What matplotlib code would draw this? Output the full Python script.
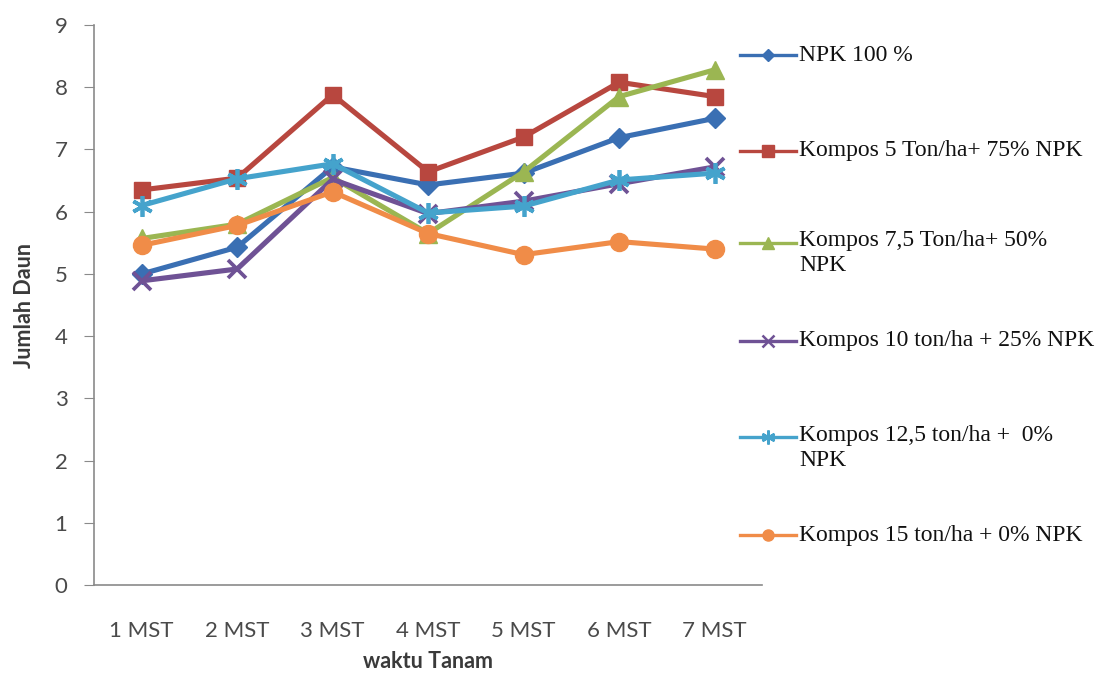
import numpy as np
import matplotlib.pyplot as plt
from matplotlib.lines import Line2D

# minggu setelah tanam
minggu = ['1 MST', '2 MST', '3 MST', '4 MST', '5 MST', '6 MST', '7 MST']

npk_100 = [5.00, 5.43, 6.72, 6.43, 6.62, 7.19, 7.50]
kompos_5 = [6.35, 6.54, 7.88, 6.64, 7.20, 8.08, 7.85]
kompos_7_5 = [5.57, 5.80, 6.55, 5.65, 6.64, 7.85, 8.28]
kompos_10 = [4.89, 5.08, 6.52, 5.97, 6.17, 6.45, 6.72]
kompos_12_5 = [6.10, 6.53, 6.77, 5.98, 6.09, 6.51, 6.62]
kompos_15 = [5.46, 5.78, 6.32, 5.65, 5.31, 5.52, 5.40]

labels = ['NPK 100 %',
          'Kompos 5 Ton/ha+ 75% NPK',
          'Kompos 7,5 Ton/ha+ 50%\nNPK',
          'Kompos 10 ton/ha + 25% NPK',
          'Kompos 12,5 ton/ha +  0%\nNPK',
          'Kompos 15 ton/ha + 0% NPK']
series = [npk_100, kompos_5, kompos_7_5, kompos_10, kompos_12_5, kompos_15]
warna = ['#3a6fb3', '#b8473f', '#9bb652', '#6f5295', '#45a3cc', '#f08c48']
marker = ['D', 's', '^', 'x', (6, 2, 0), 'o']
msize = [10, 12, 13, 13, 15, 13]
lg_size = [6, 8, 8, 8, 10, 8]

fig = plt.figure(figsize=(11.05, 6.75), dpi=100)
ax = fig.add_axes([0.085, 0.133, 0.605, 0.83])

x = np.arange(len(minggu))
for y, c, m, ms in zip(series, warna, marker, msize):
    ax.plot(x, y, color=c, lw=3.7, marker=m, markersize=ms,
            markeredgewidth=2.7 if m in ('x', (6, 2, 0)) else 1,
            markeredgecolor=c, markerfacecolor=c, solid_joinstyle='miter')

ax.set_xlim(-0.5, 6.5)
ax.set_ylim(0, 9)
ax.set_yticks(range(10))
ax.set_xticks(x)
ax.set_xticklabels(minggu)
ax.tick_params(axis='y', length=7, color='#8a8a8a', labelsize=16,
               labelcolor='#4a4a4a', pad=12)
ax.tick_params(axis='x', length=0, labelsize=16, labelcolor='#4a4a4a', pad=26)
for lab in ax.get_xticklabels() + ax.get_yticklabels():
    lab.set_family('Lato')
for s in ['top', 'right']:
    ax.spines[s].set_visible(False)
for s in ['left', 'bottom']:
    ax.spines[s].set_color('#8a8a8a')
    ax.spines[s].set_linewidth(1.2)

ax.set_ylabel('Jumlah Daun', fontsize=15.5, fontweight='bold', color='#3a3a3a',
              family='Lato', labelpad=14)
ax.set_xlabel('waktu Tanam', fontsize=15.5, fontweight='bold', color='#3a3a3a',
              family='Lato', labelpad=7)

# legenda di kanan
ly = [0.918, 0.777, 0.640, 0.495, 0.352, 0.207]
for yy, lab, c, m, ls in zip(ly, labels, warna, marker, lg_size):
    fig.add_artist(Line2D([0.670, 0.720], [yy, yy], transform=fig.transFigure,
                          color=c, lw=2.4))
    fig.add_artist(Line2D([0.695], [yy], transform=fig.transFigure, color=c,
                          marker=m, markersize=ls, markeredgecolor=c,
                          markeredgewidth=1.8 if m in ('x', (6, 2, 0)) else 1))
    multi = '\n' in lab
    fig.text(0.723, yy + 0.019 if multi else yy, lab, fontsize=17,
             family='Liberation Serif', color='#111111',
             va='top' if multi else 'center', linespacing=1.25)

fig.savefig('out.png', dpi=100, facecolor='white')
